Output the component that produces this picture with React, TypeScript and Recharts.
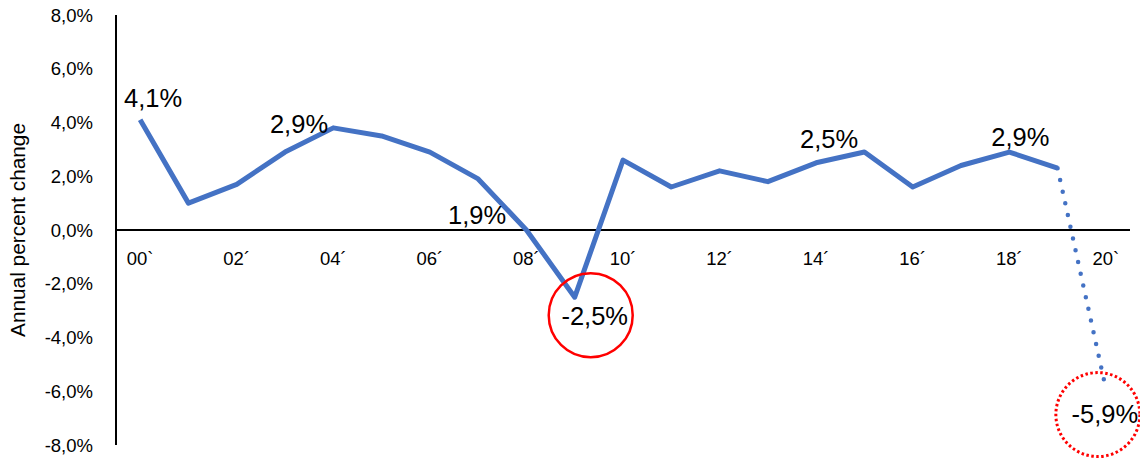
import { LineChart, Line, XAxis, YAxis, ReferenceLine, ReferenceDot, Label } from 'recharts';

const years = [
  2000, 2001, 2002, 2003, 2004, 2005, 2006, 2007, 2008, 2009, 2010,
  2011, 2012, 2013, 2014, 2015, 2016, 2017, 2018, 2019, 2020,
];
const growth = [4.1, 1.0, 1.7, 2.9, 3.8, 3.5, 2.9, 1.9, 0.0, -2.5, 2.6, 1.6, 2.2, 1.8, 2.5, 2.9, 1.6, 2.4, 2.9, 2.3, -5.9];
const yearLabels = ['00`', '', '02´', '', '04´', '', '06´', '', '08´', '', '10´', '', '12´', '', '14´', '', '16´', '', '18´', '', '20`'];
const yTicks = [-8, -6, -4, -2, 0, 2, 4, 6, 8];
const forecastFrom = 2019;
const calloutYears = [2000, 2003, 2007, 2009, 2014, 2018, 2020];

const BLUE = '#4472C4';
const FONT = '"Liberation Sans", Arial, sans-serif';

// where each callout sits relative to its point (text baseline), plus optional red ring
const calloutPos: Record<number, { dx: number; dy: number; ring?: 'solid' | 'dotted'; rx?: number; ry?: number }> = {
  2000: { dx: 13, dy: -13 },
  2003: { dx: 14, dy: -19 },
  2007: { dx: -1, dy: 45 },
  2009: { dx: 20, dy: 28, ring: 'solid', rx: 16, ry: 18 },
  2014: { dx: 13, dy: -15 },
  2018: { dx: 11, dy: -6 },
  2020: { dx: -1, dy: 34, ring: 'dotted', rx: -8, ry: 26 },
};

const pct = (v: number) => v.toFixed(1).replace('.', ',') + '%';

const data = years.map((year, i) => ({
  year,
  actual: year <= forecastFrom ? growth[i] : null,
  forecast: year >= forecastFrom ? growth[i] : null,
}));

function Callout({ viewBox, year, value }: any) {
  const pos = calloutPos[year];
  const cx = viewBox.x;
  const cy = viewBox.y;
  return (
    <g>
      {pos.ring && (
        <circle
          cx={cx + (pos.rx ?? 0)}
          cy={cy + (pos.ry ?? 0)}
          r={42}
          fill="none"
          stroke="#FF0000"
          strokeWidth={pos.ring === 'dotted' ? 3 : 2.5}
          strokeDasharray={pos.ring === 'dotted' ? '2.5 2.5' : undefined}
        />
      )}
      <text x={cx + pos.dx} y={cy + pos.dy} textAnchor="middle" fontSize={25.5} fontFamily={FONT} fill="#000">
        {pct(value)}
      </text>
    </g>
  );
}

function YearTick({ viewBox, text }: any) {
  return (
    <text x={viewBox.x} y={viewBox.y + 35} textAnchor="middle" fontSize={18.5} fontFamily={FONT} fill="#000">
      {text}
    </text>
  );
}

export default function App() {
  return (
    <div style={{ position: 'absolute', left: 0, top: 0, background: '#fff' }}>
      <LineChart width={1140} height={461} data={data} margin={{ top: 15, right: 10, bottom: 16, left: 0 }}>
        <XAxis dataKey="year" type="number" domain={[1999.5, 2020.5]} hide />
        <YAxis
          domain={[-8, 8]}
          ticks={yTicks}
          width={116}
          tickFormatter={pct}
          tickLine={false}
          tickSize={0}
          tickMargin={23}
          axisLine={{ stroke: '#000', strokeWidth: 2 }}
          tick={{ fill: '#000', fontSize: 18.5, fontFamily: FONT }}
        >
          <Label
            value="Annual percent change"
            angle={-90}
            position="insideLeft"
            offset={18}
            style={{ textAnchor: 'middle', fontSize: 20.8, fontFamily: FONT, fill: '#000' }}
          />
        </YAxis>
        <ReferenceLine y={0} stroke="#000" strokeWidth={2} />
        {years.map((year, i) =>
          yearLabels[i] ? (
            <ReferenceDot
              key={'t' + year}
              x={year}
              y={0}
              r={0}
              fill="none"
              stroke="none"
              label={(p: any) => <YearTick viewBox={p.viewBox} text={yearLabels[i]} />}
            />
          ) : null
        )}
        <Line
          type="linear"
          dataKey="actual"
          stroke={BLUE}
          strokeWidth={5}
          strokeLinejoin="round"
          dot={false}
          activeDot={false}
          isAnimationActive={false}
        />
        <Line
          type="linear"
          dataKey="forecast"
          stroke={BLUE}
          strokeWidth={4.5}
          strokeDasharray="0 12"
          strokeLinecap="round"
          dot={false}
          activeDot={false}
          isAnimationActive={false}
        />
        {calloutYears.map((year) => {
          const value = growth[years.indexOf(year)];
          return (
            <ReferenceDot
              key={'c' + year}
              x={year}
              y={value}
              r={0}
              fill="none"
              stroke="none"
              label={(p: any) => <Callout viewBox={p.viewBox} year={year} value={value} />}
            />
          );
        })}
      </LineChart>
    </div>
  );
}
